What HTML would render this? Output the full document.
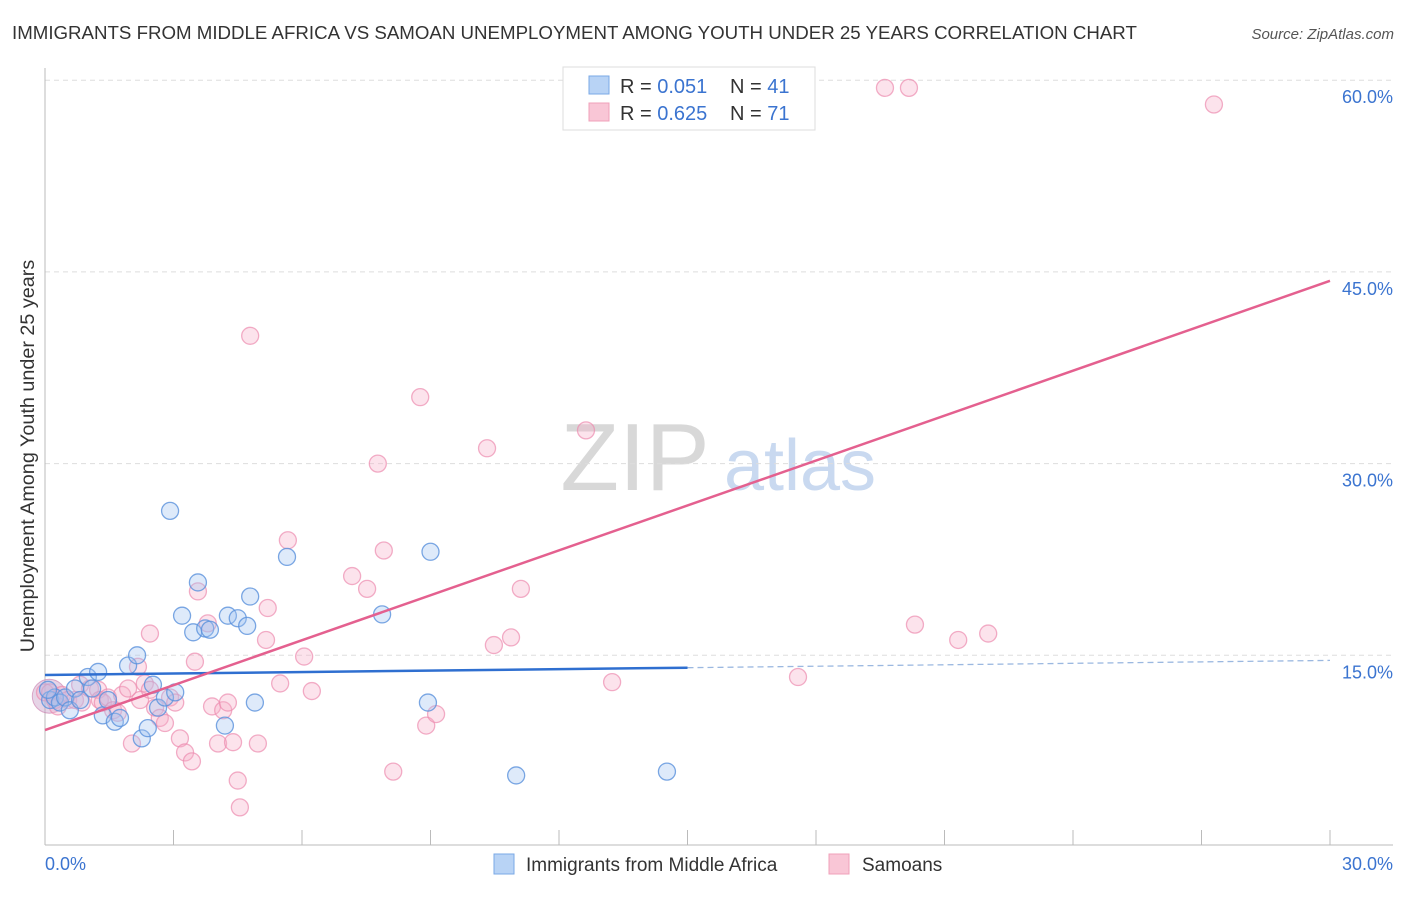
<!DOCTYPE html>
<html><head><meta charset="utf-8"><style>
body{margin:0;background:#fff;font-family:"Liberation Sans",sans-serif;}
svg text{font-family:"Liberation Sans",sans-serif;}
</style></head><body>
<svg id="chart" width="1406" height="892">
<text x="12" y="39" font-size="18.7" fill="#333">IMMIGRANTS FROM MIDDLE AFRICA VS SAMOAN UNEMPLOYMENT AMONG YOUTH UNDER 25 YEARS CORRELATION CHART</text>
<text x="1394" y="39" font-size="15" fill="#555" font-style="italic" text-anchor="end">Source: ZipAtlas.com</text>
<text x="34" y="456" font-size="19.8" fill="#333" text-anchor="middle" transform="rotate(-90 34 456)">Unemployment Among Youth under 25 years</text>
<g><text x="635" y="490" font-size="96" fill="#d8d8d8" font-family="Liberation Serif" text-anchor="middle">ZIP</text><text x="800" y="490" font-size="72" fill="#c9d9f0" text-anchor="middle">atlas</text></g>
<g id="grid"></g><g id="axes"></g><g id="pts"></g><g id="lines"></g>
<g>
<rect x="563" y="67" width="252" height="63" fill="#fff" stroke="#ddd"/>
<rect x="589" y="76" width="20" height="18" fill="#b8d3f5" stroke="#7aa8e6"/>
<rect x="589" y="103" width="20" height="18" fill="#f9c6d6" stroke="#f0a0ba"/>
<text x="620" y="93" font-size="20" fill="#333">R = <tspan fill="#3b74d0">0.051</tspan></text>
<text x="730" y="93" font-size="20" fill="#333">N = <tspan fill="#3b74d0">41</tspan></text>
<text x="620" y="120" font-size="20" fill="#333">R = <tspan fill="#3b74d0">0.625</tspan></text>
<text x="730" y="120" font-size="20" fill="#333">N = <tspan fill="#3b74d0">71</tspan></text>
</g>
<g>
<rect x="494" y="854" width="20" height="20" fill="#b8d3f5" stroke="#7aa8e6"/>
<text x="526" y="871" font-size="19" fill="#333">Immigrants from Middle Africa</text>
<rect x="829" y="854" width="20" height="20" fill="#f9c6d6" stroke="#f0a0ba"/>
<text x="862" y="871" font-size="19" fill="#333">Samoans</text>
</g>
</svg>
<script>
const yTicks=[15,30,45,60];
const xTickLabels=["0.0%","30.0%"];
const blueX=[0.12,0.23,0.35,0.47,0.58,0.70,0.82,1.0,1.1,1.24,1.35,1.47,1.63,1.75,1.94,2.15,2.26,2.4,2.52,2.64,2.8,2.92,3.04,3.2,3.46,3.57,3.74,3.85,4.2,4.27,4.5,4.72,4.79,4.9,5.65,7.87,8.94,9.0,11.0,14.52,0.07];
const blueY=[11.5,11.7,11.3,11.7,10.7,12.4,11.5,13.3,12.4,13.7,10.3,11.5,9.8,10.1,14.2,15.0,8.5,9.3,12.7,10.9,11.7,26.3,12.1,18.1,16.8,20.7,17.1,17.0,9.5,18.1,17.9,17.3,19.6,11.3,22.7,18.2,11.3,23.1,5.6,5.9,12.3];
const pinkX=[0,0.12,0.23,0.4,0.54,0.7,0.82,0.86,1.05,1.24,1.28,1.35,1.47,1.59,1.7,1.8,1.94,2.03,2.17,2.22,2.33,2.45,2.45,2.57,2.68,2.8,2.92,3.04,3.15,3.27,3.43,3.5,3.57,3.8,3.9,4.04,4.16,4.27,4.39,4.5,4.55,4.79,4.97,5.16,5.2,5.49,5.67,6.05,6.23,7.17,7.52,7.77,7.91,8.13,8.76,8.9,9.13,10.32,10.48,10.88,11.11,12.63,13.24,17.58,19.61,20.17,20.31,21.32,22.02,27.29,0.3];
const pinkY=[12.1,12.1,11.5,11.9,11.5,11.5,12.7,11.3,12.4,12.3,11.5,11.3,11.7,10.7,10.5,11.9,12.4,8.1,14.1,11.5,12.8,16.7,12.3,10.9,10.1,9.7,11.7,11.3,8.5,7.4,6.7,14.5,20.0,17.5,11.0,8.1,10.7,11.3,8.2,5.2,3.1,40.0,8.1,16.2,18.7,12.8,24.0,14.9,12.2,21.2,20.2,30.0,23.2,5.9,35.2,9.5,10.4,31.2,15.8,16.4,20.2,32.6,12.9,13.3,59.4,59.4,17.4,16.2,16.7,58.1,11.0];
const blueLine=[13.46,14.6];
const pinkLine=[9.15,44.3];
const NS="http://www.w3.org/2000/svg";
const X=v=>45+v*(1285/30);
const Y=v=>847-v*12.78;
function mk(tag,attrs,parent){const e=document.createElementNS(NS,tag);for(const k in attrs)e.setAttribute(k,attrs[k]);document.getElementById(parent).appendChild(e);return e;}
yTicks.forEach(t=>{
 const l=mk('line',{x1:45,x2:1393,y1:Y(t),y2:Y(t),stroke:'#ddd','stroke-dasharray':'5,4'},'grid');
 
 
 const tx=mk('text',{x:1393,y:Y(t)+23,'font-size':18,fill:'#3b74d0','text-anchor':'end'},'grid');
 tx.textContent=t.toFixed(1)+'%';
 
 
});
const ax=mk('line',{x1:45,x2:1393,y1:845,y2:845,stroke:'#bbb'},'axes');


const ay=mk('line',{x1:45,x2:45,y1:68,y2:845,stroke:'#bbb'},'axes');


for(let i=0;i<=10;i++){const t=mk('line',{x1:X(i*3),x2:X(i*3),y1:830,y2:845,stroke:'#bbb'},'axes');
 
 }
xTickLabels.forEach((s,i)=>{const t=mk('text',{x:i?1393:45,y:870,'font-size':18,fill:'#3b74d0','text-anchor':i?'end':'start'},'axes');t.textContent=s;
 
 });
const big=mk('circle',{cx:X(0.1),cy:Y(11.8),r:17,fill:'rgba(200,160,200,0.45)',stroke:'rgba(200,120,170,0.6)'},'pts');


pinkX.forEach((x,i)=>{const c=mk('circle',{cx:X(x),cy:Y(pinkY[i]),r:8.5,fill:'rgba(246,176,200,0.35)',stroke:'rgba(236,140,175,0.7)','stroke-width':1.3},'pts');
 
 });
blueX.forEach((x,i)=>{const c=mk('circle',{cx:X(x),cy:Y(blueY[i]),r:8.5,fill:'rgba(160,196,240,0.35)',stroke:'rgba(90,145,220,0.8)','stroke-width':1.3},'pts');
 
 });
const by=x=>blueLine[0]+(blueLine[1]-blueLine[0])*x/30;
const b1=mk('line',{x1:X(0),y1:Y(by(0)),x2:X(15),y2:Y(by(15)),stroke:'#2f6fd0','stroke-width':2.5},'lines');


const b2=mk('line',{x1:X(15),y1:Y(by(15)),x2:X(30),y2:Y(by(30)),stroke:'#9bb8e0','stroke-width':1.3,'stroke-dasharray':'6,4'},'lines');


const p1=mk('line',{x1:X(0),y1:Y(pinkLine[0]),x2:X(30),y2:Y(pinkLine[1]),stroke:'#e4608f','stroke-width':2.5},'lines');


</script>
</body></html>
